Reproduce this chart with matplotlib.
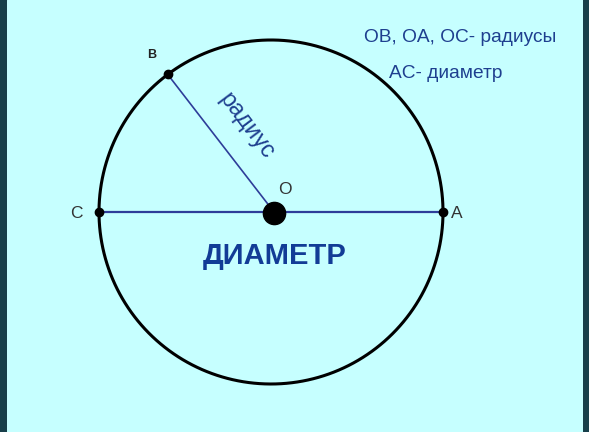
import numpy as np
import matplotlib
matplotlib.use('Agg')
import matplotlib.pyplot as plt

# Geometría en píxeles de la imagen (origen arriba a la izquierda)
centro = (271, 212)
radio = 172
nombres = ['B', 'C', 'A']
angulos = [126.9, 180.0, 0.0]   # grados, sentido antihorario
etiquetas_texto = ['OB, OA, OC- радиусы', 'AC- диаметр']

W, H = 589, 432
fondo = '#C6FFFF'
borde = '#173F4A'
azul_linea = '#2E3D99'
azul_texto = '#1E3F8F'

fig = plt.figure(figsize=(W / 100, H / 100), dpi=100)
fig.patch.set_facecolor(borde)
ax = fig.add_axes([7 / W, 0, (583 - 7) / W, 1])
ax.set_xlim(7, 583)
ax.set_ylim(H, 0)
ax.set_facecolor(fondo)
ax.axis('off')
ax.add_patch(plt.Rectangle((7, 0), 576, H, color=fondo, zorder=0))

cx, cy = centro
pts = {n: (cx + radio * np.cos(np.radians(a)), cy - radio * np.sin(np.radians(a)))
       for n, a in zip(nombres, angulos)}

# circunferencia
t = np.linspace(0, 2 * np.pi, 400)
ax.plot(cx + radio * np.cos(t), cy + radio * np.sin(t), color='black', lw=2.2, zorder=2)

# diámetro y radio
ax.plot([pts['C'][0], pts['A'][0]], [cy, cy], color=azul_linea, lw=1.6, zorder=3)
ax.plot([pts['B'][0], cx + 3], [pts['B'][1], cy], color=azul_linea, lw=1.2, zorder=3)

# puntos
for n in nombres:
    ax.plot(*pts[n], 'o', color='black', ms=6, zorder=4)
ax.plot(cx + 3, cy + 1, 'o', color='black', ms=16, zorder=4)

fuente = 'Liberation Sans'
ax.text(pts['B'][0] - 16, pts['B'][1] - 19, 'B', fontsize=9, fontweight='bold',
        color='#222222', ha='center', va='center', family=fuente)
ax.text(76, 214, 'C', fontsize=12.5, color='#333333', ha='center', va='center', family=fuente)
ax.text(457, 214, 'A', fontsize=12.5, color='#333333', ha='center', va='center', family=fuente)
ax.text(285, 189, 'O', fontsize=12.5, color='#333333', ha='center', va='center', family=fuente)

ax.text(246, 126, 'радиус', fontsize=17, color=azul_texto, rotation=-53,
        rotation_mode='anchor', ha='center', va='center', family=fuente)
ax.text(275, 256, 'ДИАМЕТР', fontsize=21, fontweight='bold', color='#123C96',
        ha='center', va='center', family=fuente)

ax.text(460, 37, etiquetas_texto[0], fontsize=13.8, color=azul_texto,
        ha='center', va='center', family=fuente)
ax.text(446, 73, etiquetas_texto[1], fontsize=13.8, color=azul_texto,
        ha='center', va='center', family=fuente)

fig.savefig('out.png', dpi=100, facecolor=borde)
